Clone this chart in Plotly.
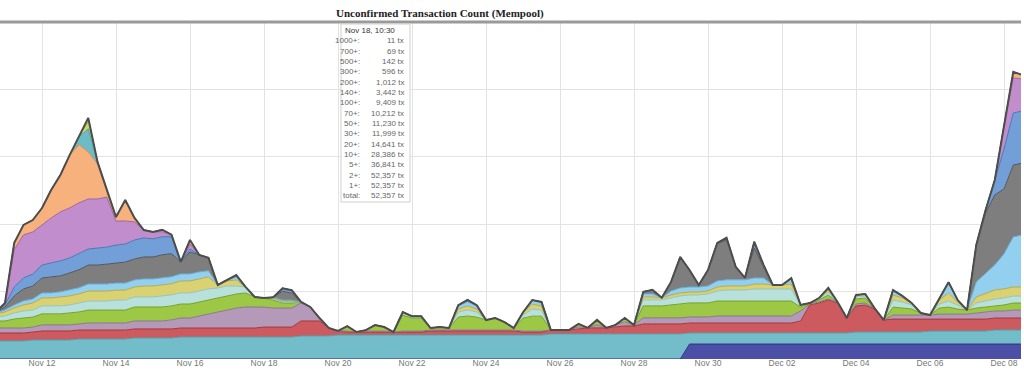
import numpy as np
import pandas as pd
import plotly.graph_objects as go

# time grid: every 6 hours from Nov 10 18:00 to Dec 08 12:00 (2017)
times = pd.date_range("2017-11-10 18:00", periods=112, freq="6h")

# band values, in thousands of transactions (fee levels in sat/B)
fee_1_2 = [
0,0,0,0,0,0,0,0,0,0, 0,0,0,0,0,0,0,0,0,0, 0,0,0,0,0,0,0,0,0,0,
0,0,0,0,0,0,0,0,0,0, 0,0,0,0,0,0,0,0,0,0, 0,0,0,0,0,0,0,0,0,0,
0,0,0,0,0,0,0,0,0,0, 0,0,0,0,0,
11.1,11.1,11.1,11.1,11.1,11.1,11.1,11.1,11.1,11.1,
11.1,11.1,11.1,11.1,11.1,11.1,11.1,11.1,11.1,11.1,
11.1,11.1,11.1,11.1,11.1,11.1,11.1,11.1,11.1,11.1,
11.1,11.1,11.1,11.1,11.1,11.1,11.1]
fee_2_5 = [
13.4,13.4,13.4,13.4,14.1,14.1,14.1,14.1,14.1,14.8,
14.8,14.8,14.8,14.8,14.8,15.6,15.6,15.6,15.6,15.6,
16.3,16.3,16.3,16.3,16.3,16.3,16.3,16.3,16.3,16.3,
16.3,16.3,16.3,17.1,17.1,17.1,17.1,17.8,17.8,17.8,
17.8,17.8,17.8,17.8,17.8,17.8,17.8,17.8,17.8,17.8,
17.8,17.8,17.8,17.8,17.8,17.8,17.8,17.8,17.8,17.8,
18.6,18.6,18.6,18.6,18.6,18.6,18.6,18.6,18.6,18.6,
18.6,18.6,18.6,18.6,18.6,8.2,8.2,8.2,8.2,8.2,
8.2,8.2,8.2,8.2,8.2,8.2,8.2,8.2,8.2,8.2,
8.2,8.2,8.2,8.9,8.9,8.9,8.9,8.9,8.9,8.9,
8.9,9.6,9.6,9.6,9.6,9.6,9.6,9.6,10.4,10.4,
10.4,10.4]
fee_5_10 = [
5.9,5.9,5.9,5.9,5.9,6.7,6.7,6.7,6.7,6.7,
6.7,6.7,6.7,6.7,6.7,6.7,6.7,6.7,6.7,6.7,
6.7,6.7,6.7,6.7,6.7,6.7,6.7,6.7,6.7,7.4,
7.4,7.4,7.4,11.1,11.1,11.1,5.9,3.0,2.2,2.2,
2.2,2.2,2.2,2.2,2.2,2.2,2.2,3.0,3.0,3.0,
3.0,3.0,3.0,3.0,3.0,3.0,3.0,2.2,2.2,2.2,
3.0,3.0,3.0,3.7,4.5,4.5,4.5,5.2,5.9,5.9,
7.4,7.4,7.4,7.4,7.4,7.4,7.4,7.4,7.4,7.4,
7.4,7.4,7.4,7.4,7.4,7.4,7.4,8.9,20.8,22.3,
24.5,22.3,11.1,19.3,20.0,17.1,8.9,9.6,9.6,9.6,
9.6,8.9,8.9,8.9,8.9,8.9,8.9,8.9,8.9,8.9,
8.9,8.9]
fee_10_20 = [
3.7,3.7,3.7,3.7,3.7,4.5,4.5,4.5,4.5,4.5,
5.2,5.2,5.2,5.2,5.2,5.9,5.9,5.9,5.9,6.7,
7.4,7.4,8.9,10.4,11.9,13.4,14.8,15.6,15.6,14.8,
14.1,14.1,14.1,13.4,10.4,2.2,0,0,0.7,0,
0.7,0.7,0.7,0,0.7,0.7,0.7,0.7,0.7,0.7,
0.7,0.7,0.7,0.7,0.7,0.7,0.7,0.7,0.7,0.7,
0,0,0,1.5,0,2.2,0,1.5,3.0,0.7,
4.5,4.5,4.5,4.5,4.5,4.5,4.5,4.5,5.2,5.2,
5.2,5.2,5.2,5.2,5.2,5.2,5.2,7.4,0.7,0.7,
0.7,0.7,0,1.5,1.5,0.7,0,3.0,3.0,3.0,
3.0,3.0,3.7,3.7,3.7,3.7,4.5,5.2,5.2,5.2,
5.9,5.9]
fee_20_30 = [
5.2,5.2,6.7,7.4,7.4,8.2,8.2,8.2,8.9,8.9,
9.6,9.6,9.6,9.6,9.6,10.4,10.4,10.4,10.4,10.4,
10.4,10.4,10.4,10.4,10.4,10.4,10.4,10.4,7.4,6.7,
5.9,3.7,3.7,0.7,0,0,0,0,3.7,0,
0.7,4.5,3.0,0,11.9,9.6,9.6,1.5,2.2,1.5,
9.6,10.4,9.6,7.4,8.9,5.9,1.5,9.6,11.1,11.1,
0,0,0,2.2,0,3.7,0,0,3.0,0,
8.9,8.9,8.9,9.6,10.4,10.4,10.4,10.4,11.1,11.1,
11.1,11.1,11.1,11.1,11.1,11.1,11.1,3.0,0.7,1.5,
3.0,0,0,3.7,3.7,0,0,5.9,5.2,4.5,
1.5,0,4.5,5.2,3.7,3.0,3.7,3.7,3.7,4.5,
5.2,5.2]
fee_30_50 = [
3.0,3.7,4.5,5.2,5.2,5.9,5.9,5.9,5.9,6.7,
6.7,6.7,6.7,7.4,7.4,7.4,7.4,7.4,8.2,8.2,
8.2,8.2,8.2,8.2,7.4,7.4,5.9,4.5,0,0,
0.7,0.7,0.7,0,0,0,0,0,0,0,
0,0,0,0,1.5,0.7,0.7,0,0,0,
3.7,4.5,3.7,0,0,0,0,2.2,5.2,4.5,
0,0,0,0,0,0,0,0,0,0,
4.5,4.5,4.5,5.2,5.9,5.9,5.9,6.7,7.4,8.2,
8.2,8.2,8.9,8.9,8.9,8.9,8.9,1.5,0,0.7,
2.2,0,0,1.5,1.5,0,0,5.2,4.5,3.0,
0,0,3.0,4.5,3.0,0,3.7,4.5,5.2,5.2,
5.2,5.2]
fee_50_70 = [
2.2,3.0,3.7,4.5,5.2,5.9,5.9,6.7,6.7,6.7,
7.4,7.4,7.4,7.4,7.4,7.4,8.2,8.2,8.2,8.2,
8.9,8.9,8.9,8.9,2.2,3.7,4.5,0,0,0,
0.7,0.7,0.7,0,0,0,0,0,0,0,
0,0,0,0,0.7,0.7,0.7,0,0,0,
2.2,3.0,2.2,0,0,0,0,1.5,3.7,3.0,
0,0,0,0,0,0,0,0,0,0,
2.2,2.2,1.5,2.2,2.2,2.2,2.2,2.2,3.0,3.0,
3.0,3.0,3.7,3.7,3.0,3.0,3.7,0,0,0.7,
1.5,0,0,1.5,1.5,0,0,3.7,3.0,1.5,
0,0,3.0,5.9,2.2,0,4.5,5.9,6.7,6.7,
6.7,6.7]
fee_70_100 = [
0.7,1.5,2.2,3.0,3.0,3.7,3.7,3.7,4.5,4.5,
5.2,5.2,5.2,5.2,5.2,5.2,5.2,5.2,5.2,5.2,
5.2,5.2,5.2,4.5,0,0.7,2.2,0,0,0,
0.7,0.7,0.7,0,0,0,0,0,0,0,
0,0,0,0,0,0,0,0,0,0,
2.2,3.0,2.2,0,0,0,0,0.7,3.0,3.0,
0,0,0,0,0,0,0,0,0,0,
2.2,2.2,0,3.0,3.7,3.7,3.7,3.7,4.5,4.5,
4.5,4.5,4.5,4.5,0,0,3.7,0,0,0,
1.5,0,0,0,0,0,0,3.0,1.5,0,
0,0,1.5,7.4,1.5,0,11.1,14.8,18.6,26.0,
37.1,38.6]
fee_100_140 = [
0.7,2.2,6.7,8.9,9.6,11.1,11.9,11.9,12.6,13.4,
14.1,14.1,14.8,14.8,15.6,15.6,16.3,16.3,17.1,17.1,
8.9,16.3,12.6,9.6,0,0,1.5,0,0,0,
0,6.7,5.2,0,0,0,0,0,0,0,
0,0,0,0,0,0,0,0,0,0,
0.7,1.5,0.7,0,0,0,0,0,0,0,
0,0,0,0,0,0,0,0,0,0,
1.5,3.0,0,6.7,22.3,12.6,1.5,11.9,27.5,29.7,
9.6,1.5,22.3,8.2,0,0,0.7,0,0,0,
0,0,0,0,0,0,0,0.7,0,0,
0,0,0,0.7,0,0,27.5,44.5,51.9,48.2,
53.4,53.4]
fee_140_200 = [
0,1.5,6.7,8.2,8.9,9.6,10.4,11.1,11.1,11.9,
11.9,12.6,12.6,13.4,13.4,14.1,14.1,13.4,13.4,12.6,
0,2.2,0,0,0,0,0,0,0,0,
0,2.2,2.2,0,0,0,0,0,0,0,
0,0,0,0,0,0,0,0,0,0,
0,0,0,0,0,0,0,0,0,0,
0,0,0,0,0,0,0,0,0,0,
0,0,0,0,0.7,0,0,0,0.7,1.5,
0,0,4.5,1.5,0,0,0,0,0,0,
0,0,0,0,0,0,0,0,0,0,
0,0,0,0,0,0,0,2.2,11.1,29.7,
38.6,38.6]
fee_200_300 = [
0,1.5,27.5,31.9,31.2,29.7,33.4,36.4,37.1,37.8,
37.1,36.4,37.1,17.8,17.1,13.4,5.9,5.2,3.7,1.5,
0,3.7,0,0,0,0,0,0,0,0,
0,0,0,0,0,0,0,0,0,0,
0,0,0,0,0,0,0,0,0,0,
0,0,0,0,0,0,0,0,0,0,
0,0,0,0,0,0,0,0,0,0,
0,0,0,0,0,0,0,0,0,0,
0,0,0,0,0,0,0,0,0,0,
0,0,0,0,0,0,0,0,0,0,
0,0,0,0,0,0,0,0,0,17.8,
26.0,23.7]
fee_300_500 = [
0,0,5.2,7.4,8.9,12.6,20.8,27.5,39.3,43.0,
34.9,26.0,5.2,3.0,15.6,3.0,0,0,1.5,0,
0,3.0,0,0,0,0,0,0,0,0,
0,0,0,0,0,0,0,0,0,0,
0,0,0,0,0,0,0,0,0,0,
0,0,0,0,0,0,0,0,0,0,
0,0,0,0,0,0,0,0,0,0,
0,0,0,0,0,0,0,0,0,0,
0,0,0,0,0,0,0,0,0,0,
0,0,0,0,0,0,0,0,0,0,
0,0,0,0,0,0,0,0,0,0,
4.5,3.0]
fee_500_700 = [
0,0,0,0,0,0,0,0,0,5.9,
17.1,1.5,0,0,0,0,0,0,0,0,
0,0,0,0,0,0,0,0,0,0,
0,0,0,0,0,0,0,0,0,0,
0,0,0,0,0,0,0,0,0,0,
0,0,0,0,0,0,0,0,0,0,
0,0,0,0,0,0,0,0,0,0,
0,0,0,0,0,0,0,0,0,0,
0,0,0,0,0,0,0,0,0,0,
0,0,0,0,0,0,0,0,0,0,
0,0,0,0,0,0,0,0,0,0,
0,0]
fee_700_1000 = [
0,0,0,0,0,0,0,0,0,0,
5.2,0,0,0,0,0,0,0,0,0,
0,0,0,0,0,0,0,0,0,0,
0,0,0,0,0,0,0,0,0,0,
0,0,0,0,0,0,0,0,0,0,
0,0,0,0,0,0,0,0,0,0,
0,0,0,0,0,0,0,0,0,0,
0,0,0,0,0,0,0,0,0,0,
0,0,0,0,0,0,0,0,0,0,
0,0,0,0,0,0,0,0,0,0,
0,0,0,0,0,0,0,0,0,0,
0,0]
fee_1000 = [
0,0,0,0,0,0,0,0,0,0,
3.0,0,0,0,0,0,0,0,0,0,
0,0,0,0,0,0,0,0,0,0,
0,0,0,0,0,0,0,0,0,0,
0,0,0,0,0,0,0,0,0,0,
0,0,0,0,0,0,0,0,0,0,
0,0,0,0,0,0,0,0,0,0,
0,0,0,0,0,0,0,0,0,0,
0,0,0,0,0,0,0,0,0,0,
0,0,0,0,0,0,0,0,0,0,
0,0,0,0,0,0,0,0,0,0,
0,0]

bands = [
    ("1-2", fee_1_2, "#4b50a6", "#2c3183"),
    ("2-5", fee_2_5, "#72bdc9", "#579fab"),
    ("5-10", fee_5_10, "#cc5a5e", "#a3383c"),
    ("10-20", fee_10_20, "#b49ab8", "#8c7791"),
    ("20-30", fee_20_30, "#9dc845", "#76a029"),
    ("30-50", fee_30_50, "#b9e1dc", "#95c4be"),
    ("50-70", fee_50_70, "#d9d172", "#b4ab4a"),
    ("70-100", fee_70_100, "#93d0f0", "#6aafd6"),
    ("100-140", fee_100_140, "#7e7e7e", "#565656"),
    ("140-200", fee_140_200, "#729fd8", "#4a77b3"),
    ("200-300", fee_200_300, "#c28dcc", "#9a66a5"),
    ("300-500", fee_300_500, "#f6b17c", "#d38e5a"),
    ("500-700", fee_500_700, "#6cbcc6", "#4d9ea8"),
    ("700-1000", fee_700_1000, "#d4d66c", "#adb04a"),
    ("1000+", fee_1000, "#a8d06c", "#7ba448"),
]

# tooltip (hover box) contents
tip_time = "Nov 18, 10:30"
tip_labels = ["1000+:", "700+:", "500+:", "300+:", "200+:", "140+:", "100+:", "70+:",
              "50+:", "30+:", "20+:", "10+:", "5+:", "2+:", "1+:", "total:"]
tip_values = [11, 69, 142, 596, 1012, 3442, 9409, 10212, 11230, 11999, 14641,
              28386, 36841, 52357, 52357, 52357]

tick_dates = ["2017-11-12", "2017-11-14", "2017-11-16", "2017-11-18", "2017-11-20",
              "2017-11-22", "2017-11-24", "2017-11-26", "2017-11-28", "2017-11-30",
              "2017-12-02", "2017-12-04", "2017-12-06", "2017-12-08"]

fig = go.Figure()
for name, vals, fillc, linec in bands:
    fig.add_trace(go.Scatter(
        x=times, y=vals, name=name, mode="lines", stackgroup="fees",
        line=dict(color=linec, width=1), fillcolor=fillc, hoverinfo="skip"))

total = np.sum([np.array(b[1]) for b in bands], axis=0)
fig.add_trace(go.Scatter(x=times, y=total, mode="lines", name="total",
                         line=dict(color="#4d4d4d", width=2), hoverinfo="skip"))

W, H = 1024, 370
ml, mr, mt, mb = 0, 3, 22, 11
pw, ph = W - ml - mr, H - mt - mb

def px(xp):
    return (xp - ml) / pw

def py(yp):
    return (H - mb - yp) / ph

fig.update_layout(
    width=W, height=H,
    margin=dict(l=ml, r=mr, t=mt, b=mb),
    paper_bgcolor="white", plot_bgcolor="white",
    showlegend=False,
    xaxis=dict(
        type="date",
        range=["2017-11-10 20:45", "2017-12-08 11:00"],
        tickvals=tick_dates, tickformat="%b %d",
        tickfont=dict(family="Liberation Sans, Arial, sans-serif", size=8.5, color="#777777"),
        showgrid=True, gridcolor="#e3e3e3", gridwidth=1,
        showline=False, zeroline=False, ticks="", automargin=False,
        ticklabelstandoff=-3,
    ),
    yaxis=dict(
        range=[0, 250], dtick=50, showticklabels=False,
        showgrid=True, gridcolor="#e3e3e3", gridwidth=1,
        zeroline=False, showline=False, automargin=False, fixedrange=True,
    ),
)

shapes = []
# top border line of the plot
shapes.append(dict(type="line", xref="paper", yref="paper", x0=0, x1=1, y0=1, y1=1,
                   line=dict(color="#9a9a9a", width=3)))
# tooltip box
shapes.append(dict(type="rect", xref="paper", yref="paper",
                   x0=px(341), x1=px(410), y0=py(202), y1=py(24),
                   fillcolor="rgba(255,255,255,0.95)", line=dict(color="#d0d0d0", width=1)))
fig.update_layout(shapes=shapes)

ann = []
ann.append(dict(text="<b>Unconfirmed Transaction Count (Mempool)</b>", xref="paper", yref="paper",
                x=px(440), y=py(13), xanchor="center", yanchor="middle", showarrow=False,
                font=dict(family="Liberation Serif, Times New Roman, serif", size=11, color="#222222")))
ann.append(dict(text=tip_time, xref="paper", yref="paper", x=px(343), y=py(30),
                xanchor="left", yanchor="middle", showarrow=False,
                font=dict(family="Liberation Sans, Arial, sans-serif", size=8, color="#333333")))
for k, (lab, val) in enumerate(zip(tip_labels, tip_values)):
    yy = 40.7 + 10.35 * k
    ann.append(dict(text=lab, xref="paper", yref="paper", x=px(362), y=py(yy),
                    xanchor="right", yanchor="middle", showarrow=False,
                    font=dict(family="Liberation Sans, Arial, sans-serif", size=8, color="#666666")))
    ann.append(dict(text=f"{val:,} tx", xref="paper", yref="paper", x=px(406), y=py(yy),
                    xanchor="right", yanchor="middle", showarrow=False,
                    font=dict(family="Liberation Sans, Arial, sans-serif", size=8, color="#666666")))
fig.update_layout(annotations=ann)

fig.write_html("out.html", config={"displayModeBar": False},
               post_script="document.body.style.margin='0px';")
